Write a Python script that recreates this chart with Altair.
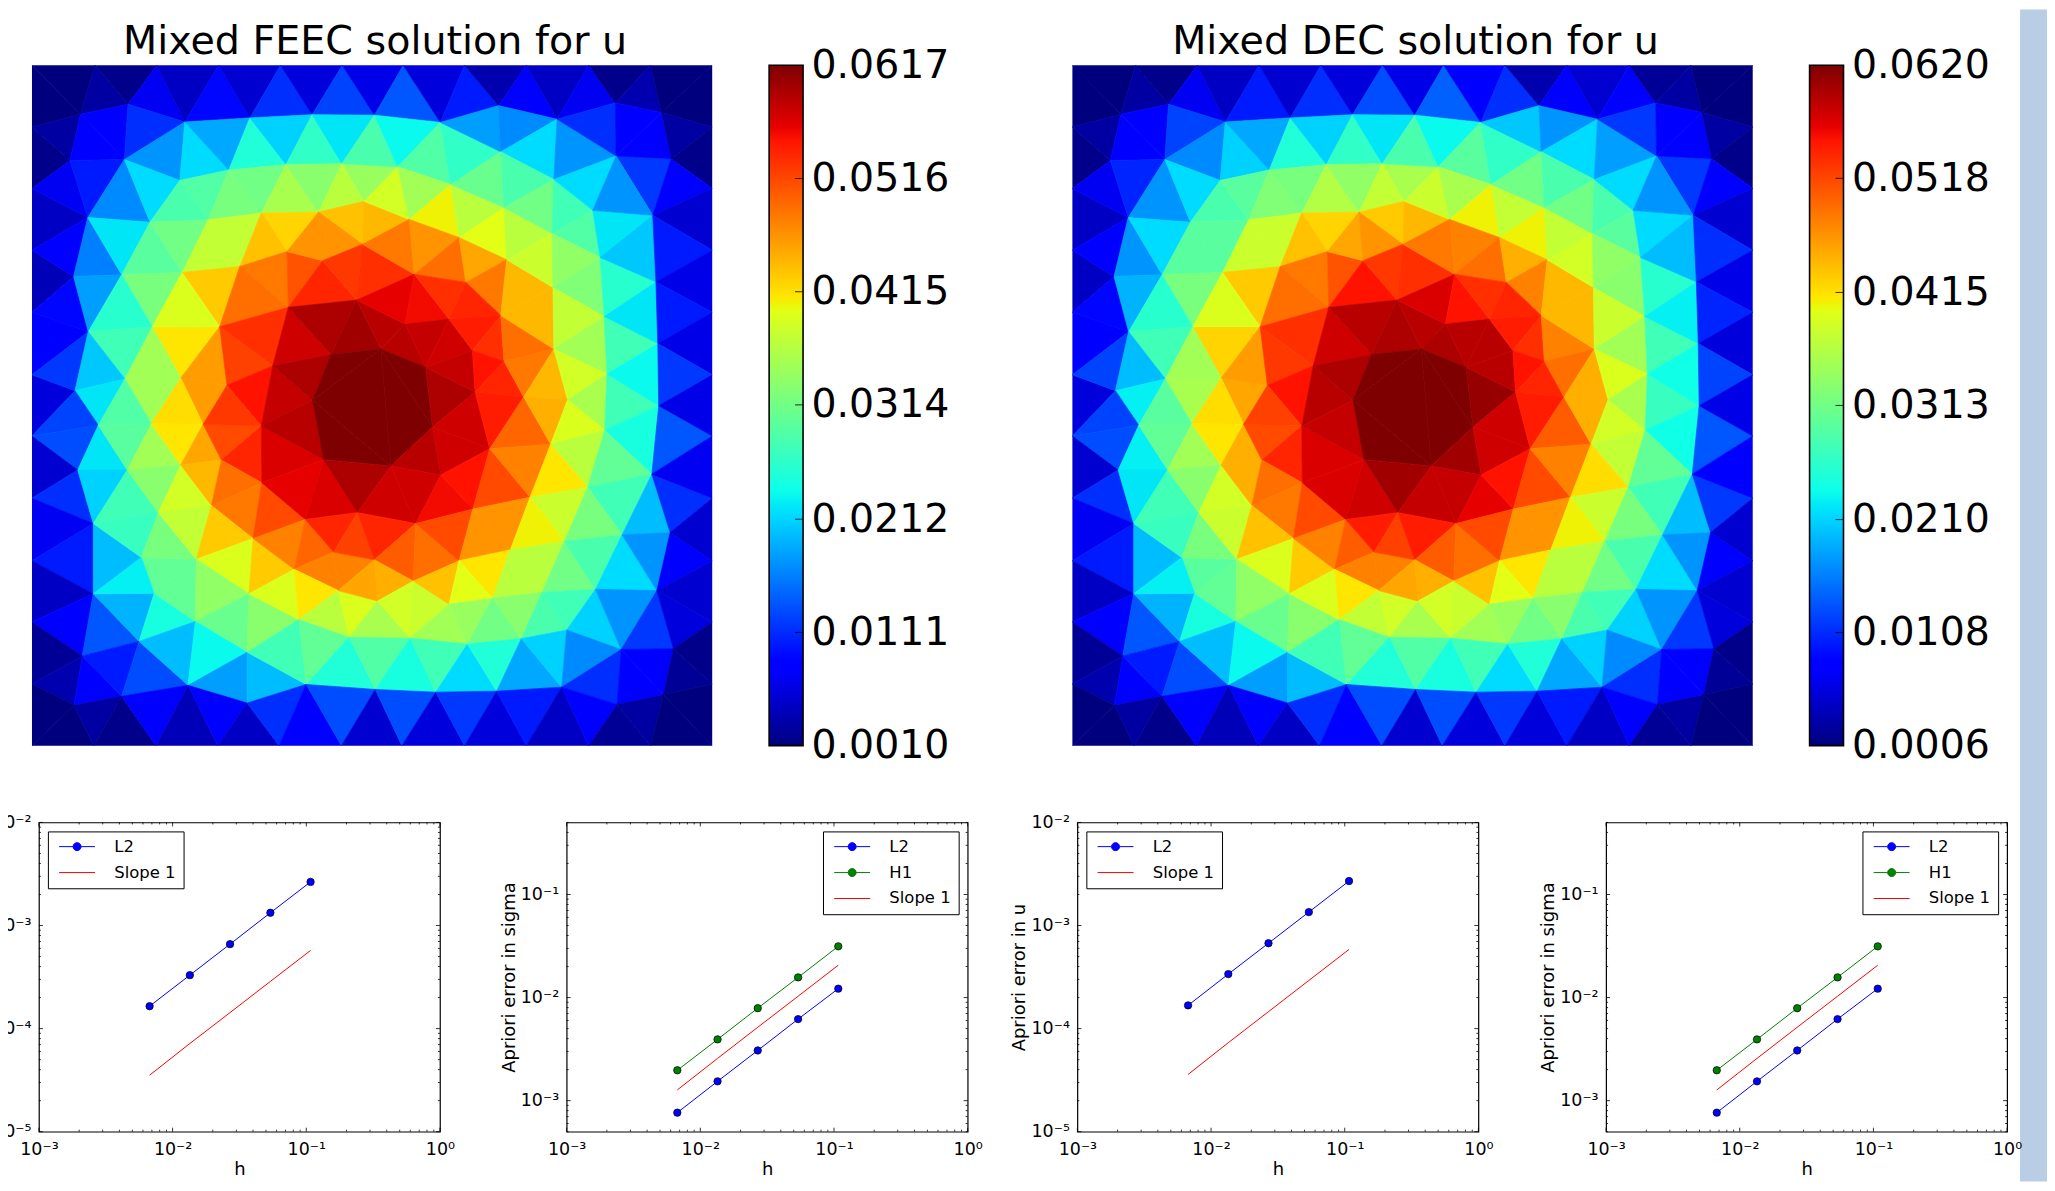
import altair as alt, pandas as pd, numpy as np

TOP_X=[27,165,300,435,570,705,838,972,1107,1243,1378,1513]
BOT_X=[27,162,298,433,567,703,835,972,1107,1243,1378,1513]
SIDE_Y=[168,304,440,577,715,850,987,1125,1260,1397]
RING_1=[(133,140),(237,118),(361,157),(503,148),(639,141),(775,142),(919,158),(1046,121),(1174,151),(1301,115),(1402,136),
(1423,238),(1383,363),(1390,510),(1394,646),(1396,783),(1381,934),(1421,1063),(1392,1191),(1428,1319),(1406,1421),
(1305,1442),(1184,1404),(1042,1413),(909,1415),(777,1409),(626,1398),(497,1439),(368,1400),(223,1424),(119,1444),
(137,1335),(161,1198),(161,1043),(127,925),(172,826),(121,750),(150,620),(118,498),(149,368),(110,242)]
RING_2=[(229,240),(350,286),(457,263),(582,251),(704,249),(826,256),(942,295),(1051,223),(1167,284),(1303,232),
(1252,352),(1268,456),(1277,586),(1283,713),(1278,837),(1241,963),(1316,1068),(1258,1188),(1314,1321),
(1195,1278),(1096,1297),(978,1309),(853,1296),(720,1294),(610,1255),(497,1327),(384,1259),(261,1303),(294,1197),(266,1118),
(303,1019),(235,925),(288,823),(230,724),(290,609),(223,494),(285,378)]
INNER=[(412,373),(528,358),(653,356),(752,332),(851,372),(960,412),(1058,346),(1163,403),(1165,522),(1167,658),(1197,770),(1160,868),(1115,985),(1190,1082),(1141,1195),(1033,1208),(938,1221),
(1072,1101),(960,1125),(990,1011),(1027,878),(1101,764),(1058,685),(1051,584),(975,511),(1064,461),(938,592),(989,661),(995,753),(842,603),(887,698),(789,658),(680,670),(553,695),(453,738),(401,824),
(355,489),(481,476),(584,443),(662,463),(749,427),(587,566),(736,550),(862,493),(437,609),(352,722),(528,828),(640,771),(664,902),(811,916),(902,830),(920,936),(865,1043),(738,1019),(624,1034),(529,953),(441,903),(352,914),(419,1003),(510,1076),(386,1122),(501,1198),(600,1144),(686,1106),(775,1123),(860,1170),(782,1214),(696,1191)]
# colour level (percent of the colour range) of each triangle, row by row
FEEC=[0,0,3,1,10,6,13,7,17,8,19,9,21,8,15,4,12,6,10,1,4,0,0,
1,3,12,12,17,27,34,29,40,33,42,35,55,45,37,46,42,28,26,34,27,17,12,18,12,3,1,
6,10,15,26,34,45,46,51,60,50,57,68,53,59,70,71,62,56,65,59,49,64,45,59,50,44,46,34,35,27,11,7,
5,11,25,35,47,51,50,60,69,70,78,82,75,87,75,85,86,78,75,79,73,78,71,61,54,52,41,32,15,9,
11,13,28,41,44,66,63,79,86,93,96,97,95,91,95,90,94,86,93,87,88,86,79,71,60,56,44,35,15,9,
8,18,32,35,56,56,74,74,84,89,94,96,100,100,100,96,94,89,87,78,71,62,57,44,37,18,
19,20,35,46,47,56,67,66,73,83,85,87,92,95,100,100,95,93,93,88,80,72,63,59,39,21,9,
7,17,33,44,53,62,71,79,78,83,91,92,96,93,93,90,89,83,77,66,61,48,44,31,17,10,
10,15,31,43,48,51,60,69,63,69,77,80,77,87,77,84,87,81,79,83,75,66,75,65,59,50,51,45,34,27,11,7,
6,12,21,30,36,39,48,54,49,53,63,66,59,63,73,57,72,62,61,70,56,64,55,50,59,53,45,44,33,27,18,8,7,
2,4,11,15,20,31,37,28,31,44,48,40,46,39,44,34,40,29,33,26,17,12,11,2,1,
0,0,3,1,11,5,11,6,17,12,20,7,20,8,18,8,15,6,12,2,3,0,0]
DEC=[0,0,3,1,10,6,15,7,17,8,20,9,22,11,17,4,12,7,11,2,3,0,0,
1,3,12,12,19,26,33,29,40,33,42,35,57,45,37,47,42,32,27,34,28,18,12,18,12,3,1,
6,10,16,27,34,45,47,52,61,51,58,68,54,60,69,71,61,57,65,60,50,65,45,60,50,45,47,34,34,27,11,7,
6,11,27,34,47,51,47,61,69,70,78,82,73,89,75,85,86,78,77,79,72,77,71,62,54,53,41,31,17,9,
11,13,30,41,44,68,63,79,86,93,95,96,95,92,96,89,95,86,95,87,88,86,77,71,61,56,44,36,16,8,
8,19,31,36,57,56,73,74,85,89,95,96,100,100,100,98,95,89,87,79,72,63,57,43,38,19,
19,20,36,47,48,56,67,66,72,83,84,87,92,94,100,100,97,93,93,88,81,72,62,60,38,21,9,
7,17,35,44,53,62,72,79,78,83,92,93,97,94,94,91,89,83,77,67,61,48,44,31,18,11,
10,15,31,43,47,51,61,70,63,69,77,81,77,88,77,84,88,81,79,83,75,66,75,65,59,50,51,45,34,27,12,7,
6,12,21,30,36,39,48,54,49,53,63,66,60,62,73,57,72,62,61,70,56,64,55,50,59,53,45,44,33,27,18,8,7,
2,4,11,15,20,31,37,28,31,44,48,40,46,39,44,34,40,29,33,26,17,12,11,2,1,
0,0,3,1,11,5,11,6,17,12,20,7,20,8,18,8,15,6,12,2,3,0,0]
FEEC_RANGE=[0.0010,0.0617]; DEC_RANGE=[0.0006,0.0620]
FEEC_TICKS=[0.0010,0.0111,0.0212,0.0314,0.0415,0.0516,0.0617]
DEC_TICKS=[0.0006,0.0108,0.0210,0.0313,0.0415,0.0518,0.0620]
H=[0.1077,0.0539,0.0269,0.01346,0.00673]
FEEC_U_L2=[2.65e-3,1.33e-3,6.6e-4,3.3e-4,1.65e-4]
FEEC_U_SLOPE=[5.73e-4,2.87e-4,1.43e-4,7.17e-5,3.53e-5]
DEC_U_L2=[2.7e-3,1.35e-3,6.74e-4,3.38e-4,1.68e-4]
DEC_U_SLOPE=[5.86e-4,2.93e-4,1.46e-4,7.3e-5,3.59e-5]
SIG_L2=[1.22e-2,6.18e-3,3.07e-3,1.54e-3,7.65e-4]
SIG_H1=[3.14e-2,1.57e-2,7.89e-3,3.93e-3,1.97e-3]
SIG_SLOPE=[2.06e-2,1.03e-2,5.15e-3,2.57e-3,1.27e-3]
JET_POS=[0,.11,.125,.34,.35,.375,.64,.65,.66,.89,.91,1]
JET_COL=['#00007f','#0000ff','#0000ff','#00dcff','#00e6f7','#0cffeb' ,'#e2ff15','#f0f205','#ffe600','#ff1300','#e60000','#7f0000']
FONT='DejaVu Sans'

V=[(x,32) for x in TOP_X]+[(x,1533) for x in BOT_X]+[(27,y) for y in SIDE_Y]+[(1513,y) for y in SIDE_Y]+RING_1+RING_2+INNER
def delaunay(P):
    pts=list(P)+[(-1e4,-1e4),(2e4,-1e4),(750,2e4)]
    n=len(P); tris=[(n,n+1,n+2)]
    def cc(t):
        (ax,ay),(bx,by),(cx,cy)=[pts[i] for i in t]
        d=2*(ax*(by-cy)+bx*(cy-ay)+cx*(ay-by))
        ux=((ax*ax+ay*ay)*(by-cy)+(bx*bx+by*by)*(cy-ay)+(cx*cx+cy*cy)*(ay-by))/d
        uy=((ax*ax+ay*ay)*(cx-bx)+(bx*bx+by*by)*(ax-cx)+(cx*cx+cy*cy)*(bx-ax))/d
        return ux,uy,(ax-ux)**2+(ay-uy)**2
    for i in range(n):
        p=pts[i]; bad=[];good=[]
        for t in tris:
            ux,uy,r=cc(t)
            (bad if (p[0]-ux)**2+(p[1]-uy)**2<r else good).append(t)
        edges={}
        for t in bad:
            for e in ((t[0],t[1]),(t[1],t[2]),(t[2],t[0])):
                k=tuple(sorted(e)); edges[k]=edges.get(k,0)+1
        tris=good+[(k[0],k[1],i) for k,c in edges.items() if c==1]
    return [t for t in tris if max(t)<n]
T=delaunay(V)
def cen(t): return (sum(V[i][0] for i in t)/3,sum(V[i][1] for i in t)/3)
T=[t for t in T if abs((V[t[1]][0]-V[t[0]][0])*(V[t[2]][1]-V[t[0]][1])-(V[t[2]][0]-V[t[0]][0])*(V[t[1]][1]-V[t[0]][1]))>1]
T.sort(key=lambda t:(int((cen(t)[1]-32)//125),cen(t)[0]))
assert len(T)==334 and len(FEEC)==334 and len(DEC)==334, (len(T),len(FEEC),len(DEC))

def norm(p): return [(p[0]-27)/1486,(p[1]-32)/1501]
def features(levels,rng):
    out=[]
    for t,l in zip(T,levels):
        ring=[norm(V[i]) for i in t]+[norm(V[t[0]])]
        out.append(dict(type='Feature',properties=dict(val=rng[0]+(rng[1]-rng[0])*l/100),geometry=dict(type='Polygon',coordinates=[ring])))
    return out

def mesh(levels,rng,title):
    dom=[rng[0]+(rng[1]-rng[0])*p for p in JET_POS]
    sc=alt.Scale(domain=dom,range=JET_COL,interpolate='rgb',nice=False,zero=False)
    return alt.Chart(alt.Data(values=features(levels,rng),format=alt.DataFormat(type='json'))).mark_geoshape(strokeWidth=0.7).encode(
        color=alt.Color('properties.val:Q',scale=sc,legend=None),
        stroke=alt.Stroke('properties.val:Q',scale=sc,legend=None)
    ).project(type='identity',scale=682,translate=[0,0]).properties(width=682,height=682,
        title=alt.TitleParams(title,font=FONT,fontSize=39.7,fontWeight='normal',color='black',offset=3,dx=3,anchor='middle'))

def colorbar(rng,ticks):
    grad=alt.Gradient(gradient='linear',x1=0,x2=0,y1=1,y2=0,stops=[alt.GradientStop(offset=o,color=c) for o,c in zip(JET_POS,JET_COL)])
    ys=alt.Scale(domain=rng,nice=False,zero=False)
    bar=alt.Chart(pd.DataFrame(dict(lo=[rng[0]],hi=[rng[1]]))).mark_rect(fill=grad,stroke='black',strokeWidth=1.6).encode(
        x=alt.value(0),x2=alt.value(34),
        y=alt.Y('lo:Q',scale=ys,axis=alt.Axis(orient='right',values=ticks,format='.4f',title=None,grid=False,domain=False,ticks=False,labelPadding=8,labelFont=FONT,labelFontSize=39.5,labelColor='black',labelOverlap=False,labelBound=False,labelFlush=False)),
        y2='hi:Q')
    tk=alt.Chart(pd.DataFrame(dict(t=ticks[1:-1]))).mark_rule(color='black',strokeWidth=0.8).encode(y=alt.Y('t:Q',scale=ys),x=alt.value(26),x2=alt.value(34))
    return alt.layer(bar,tk).properties(width=34,height=682)

def spacer(w,h=1):
    return alt.Chart(pd.DataFrame(dict(a=[0]))).mark_point(opacity=0).encode(x=alt.value(0),y=alt.value(0)).properties(width=w,height=h)

LBL="{'-5':'10⁻⁵','-4':'10⁻⁴','-3':'10⁻³','-2':'10⁻²','-1':'10⁻¹','0':'10⁰'}[round(log(datum.value)/LN10)]"
WITH_DOT="M-0.8,0H2.0A0.8,0.8 0 1,1 3.6,0A0.8,0.8 0 1,1 2.0,0M3.6,0H6.4"
NO_DOT="M-0.8,0H6.4"
NAMES={'L2':'#0000ff','H1':'#008000','Slope 1':'#ff0000'}
def loglog(series,ydom,ydec,ytitle,legend_orient,width):
    rows=[dict(h=x,v=y,s=k) for k,vals in series for x,y in zip(H,vals)]
    df=pd.DataFrame(rows)
    dom=[k for k,_ in series]; cols=[NAMES[k] for k in dom]
    xs=alt.Scale(type='log',domain=[1e-3,1],nice=False); ys=alt.Scale(type='log',domain=ydom,nice=False)
    C=alt.Scale(domain=dom,range=cols)
    X=alt.X('h:Q',scale=xs,axis=alt.Axis(values=[1e-3,1e-2,1e-1,1],title='h',grid=False,ticks=False,domain=False,labelFont=FONT,labelFontSize=17.5,titleFont=FONT,titleFontSize=18,titleFontWeight='normal',titleColor='black',labelColor='black',labelExpr=LBL,labelPadding=9,titlePadding=2,labelOverlap=False,labelBound=False,labelFlush=False))
    Y=alt.Y('v:Q',scale=ys,axis=alt.Axis(values=ydec,title=ytitle,grid=False,ticks=False,domain=False,labelFont=FONT,labelFontSize=17.5,titleFont=FONT,titleFontSize=18,titleFontWeight='normal',titleColor='black',labelColor='black',labelExpr=LBL,labelPadding=8,titlePadding=2,labelOverlap=False,labelBound=False,labelFlush=False))
    h=310
    LEG=alt.Legend(title=None,orient=legend_orient,offset=9,fillColor='white',strokeColor='black',padding=7,labelFont=FONT,labelFontSize=16.5,labelColor='black',rowPadding=9,symbolStrokeWidth=1,labelOffset=43,symbolOpacity=1,symbolSize=100)
    line=alt.Chart(df).mark_line(strokeWidth=1).encode(x=X,y=Y,color=alt.Color('s:N',scale=C,legend=LEG),detail='s:N')
    pts=alt.Chart(df[df.s!='Slope 1']).mark_circle(size=55,opacity=1,stroke='black',strokeWidth=0.7).encode(x=X,y=Y,color=alt.Color('s:N',scale=C,legend=LEG))
    ldf=pd.DataFrame(dict(h=[1e-8]*len(dom),v=[1e-8]*len(dom),s=dom))
    leg=alt.Chart(ldf).mark_point(filled=True,size=100,opacity=1,strokeWidth=1,clip=True).encode(x=X,y=Y,
        color=alt.Color('s:N',scale=C,legend=LEG),
        stroke=alt.Stroke('s:N',scale=C,legend=LEG),
        shape=alt.Shape('s:N',scale=alt.Scale(domain=dom,range=[NO_DOT if k=='Slope 1' else WITH_DOT for k in dom]),legend=LEG))
    maj_x=[1e-3,1e-2,1e-1,1]; min_x=[k*10.0**d for d in (-3,-2,-1) for k in range(2,10)]
    lo=int(np.floor(np.log10(ydom[0])));hi=int(np.ceil(np.log10(ydom[1])))
    all_y=[k*10.0**d for d in range(lo,hi) for k in range(1,10)]
    min_y=[v for v in all_y if ydom[0]<=v<=ydom[1] and not any(abs(v-m)<1e-12 for m in ydec)]
    def xt(vals,L):
        d=pd.DataFrame(dict(h=vals))
        return [alt.Chart(d).mark_rule(color='black',strokeWidth=0.8).encode(x='h:Q',y=alt.value(a),y2=alt.value(b)) for a,b in ((h-L,h),(0,L))]
    def yt(vals,L):
        d=pd.DataFrame(dict(v=vals))
        return [alt.Chart(d).mark_rule(color='black',strokeWidth=0.8).encode(y='v:Q',x=alt.value(a),x2=alt.value(b)) for a,b in ((0,L),(width-L,width))]
    ticks=xt(maj_x,4)+xt(min_x,2)+yt(ydec,4)+yt(min_y,2)
    return alt.layer(line,pts,leg,*ticks).properties(width=width,height=h,view=alt.ViewConfig(stroke='black',strokeWidth=1.2))

stripe=alt.Chart(pd.DataFrame(dict(a=[0]))).mark_rect(color='#b9cde5').encode(x=alt.value(0),x2=alt.value(27),y=alt.value(-56),y2=alt.value(1119)).properties(width=27,height=1)

RES=dict(color='independent',stroke='independent',shape='independent',x='independent',y='independent')
top=alt.hconcat(mesh(FEEC,FEEC_RANGE,'Mixed FEEC solution for u'),spacer(57),colorbar(FEEC_RANGE,FEEC_TICKS),spacer(270),
     mesh(DEC,DEC_RANGE,'Mixed DEC solution for u'),spacer(57),colorbar(DEC_RANGE,DEC_TICKS),spacer(177),stripe,spacing=0).properties(bounds='flush').resolve_scale(**RES)
bot=alt.hconcat(spacer(7),
     loglog([('L2',FEEC_U_L2),('Slope 1',FEEC_U_SLOPE)],[1e-5,1e-2],[1e-5,1e-4,1e-3,1e-2],None,'top-left',402),spacer(127),
     loglog([('L2',SIG_L2),('H1',SIG_H1),('Slope 1',SIG_SLOPE)],[5e-4,0.5],[1e-3,1e-2,1e-1],'Apriori error in sigma','top-right',402),spacer(110),
     loglog([('L2',DEC_U_L2),('Slope 1',DEC_U_SLOPE)],[1e-5,1e-2],[1e-5,1e-4,1e-3,1e-2],'Apriori error in u','top-left',402),spacer(128),
     loglog([('L2',SIG_L2),('H1',SIG_H1),('Slope 1',SIG_SLOPE)],[5e-4,0.5],[1e-3,1e-2,1e-1],'Apriori error in sigma','top-right',402),spacing=0).properties(bounds='flush').resolve_scale(**RES)
chart=alt.vconcat(top,bot,spacing=759).properties(bounds='flush',padding={'left':-17,'top':0,'right':0,'bottom':0}).resolve_scale(**RES).configure_view(stroke=None)
chart.save("out.html", embed_options={"renderer": "svg", "actions": False})
